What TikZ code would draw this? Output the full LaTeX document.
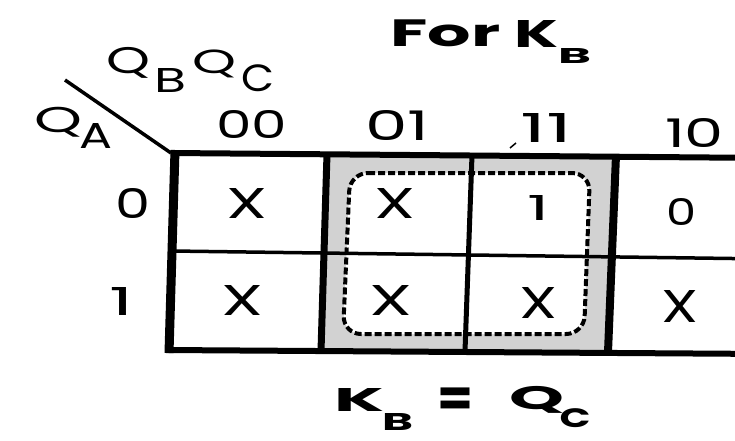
\documentclass[tikz,border=0pt]{standalone}
\usepackage{fontspec}
\setmainfont{Poppins}
% scale a piece of text to a given width and total height (in pt)
\newcommand{\fit}[3]{\resizebox*{#1pt}{#2pt}{#3}}
\begin{document}
\begin{tikzpicture}[x=1pt,y=-1pt,
  txt/.style={inner sep=0pt, font=\fontsize{40}{44}\selectfont},
  bold/.style={inner sep=0pt, font=\fontsize{40}{44}\selectfont\bfseries},
  thinline/.style={line width=3.5pt},
  loopline/.style={line width=4pt, dash pattern=on 7pt off 3pt, rounded corners=18pt}]
\useasboundingbox (0,0) rectangle (735,440);
\clip (0,0) rectangle (735,440);

% corners of the map frame
\coordinate (tl) at (171,153);
\coordinate (tr) at (770,158);
\coordinate (bl) at (166,350);
\coordinate (br) at (770,354);

% edges of the grouped columns 01 and 11
\coordinate (ga) at (327,154);
\coordinate (gb) at (616,155);
\coordinate (gc) at (608,352);
\coordinate (gd) at (321,351);

% loop corners
\coordinate (la) at (350,173);
\coordinate (lb) at (590,173);
\coordinate (lc) at (584,334);
\coordinate (ld) at (343,334);

% shaded band of the group, white inside the loop
\fill[gray!35] (ga) -- (gb) -- (gc) -- (gd) -- cycle;
\fill[white, rounded corners=18pt] (la) -- (lb) -- (lc) -- (ld) -- cycle;

% inner grid lines
\coordinate (ml) at (172,251);
\coordinate (mr) at (770,259);
\draw[thinline] (ml) -- (mr);
\coordinate (ct) at (472,155);
\coordinate (cb) at (465,351);
\draw[line width=5pt] (ct) -- (cb);
\draw[line width=7pt] (ga) -- (gd);
\draw[line width=8pt] (gb) -- (gc);

% outer frame
\draw[line width=6pt] (tl) -- (tr);
\draw[line width=6pt] (bl) -- (br);
\coordinate (lt) at (175,150);
\coordinate (lbt) at (169,353);
\draw[line width=9pt] (lt) -- (lbt);

% dashed loop
\draw[loopline] (la) -- (lb) -- (lc) -- (ld) -- cycle;

% corner diagonal
\coordinate (dg) at (65,80);
\draw[thinline] (dg) -- (tl);

% variable names
\node[txt] (q1) at (128.5,62.5) {\fit{44}{31}{Q}};
\node[txt] (sb) at (170,80) {\fit{32}{24}{B}};
\node[txt] (q2) at (214.5,64) {\fit{44}{28}{Q}};
\node[txt] (sc) at (257.5,78.5) {\fit{33}{27}{C}};
\node[txt] (q3) at (58.5,122) {\fit{48}{30}{Q}};
\node[txt] (sa) at (96,135.5) {\fit{33}{25}{A}};

% column headers
\node[txt] (c00) at (251.5,124) {\fit{71}{28}{00}};
\node[txt] (c01) at (397,125) {\fit{64}{30}{01}};
\node[txt] (c11) at (546,127.5) {\fit{52}{29}{11}};
\node[txt] (c10) at (694.5,132.5) {\fit{59}{29}{10}};
\coordinate (tk1) at (510,148);
\coordinate (tk2) at (516,143);
\draw[line width=1.5pt] (tk1) -- (tk2);

% row headers
\node[txt] (r0) at (133.5,203) {\fit{35}{30}{0}};
\node[txt] (r1) at (121,301) {\fit{24}{28}{1}};

% cell entries
\node[txt] (m00) at (247,203) {\fit{41}{30}{X}};
\node[txt] (m01) at (395,203) {\fit{41}{30}{X}};
\node[txt] (m11) at (538,207.5) {\fit{22}{25}{1}};
\node[txt] (m10) at (681,211.5) {\fit{30}{27}{0}};
\node[txt] (n00) at (242.5,300) {\fit{42}{30}{X}};
\node[txt] (n01) at (391,300) {\fit{43}{30}{X}};
\node[txt] (n11) at (538.5,302.5) {\fit{38}{31}{X}};
\node[txt] (n10) at (680,306) {\fit{37}{32}{X}};

% heading
\node[bold] (hf) at (445.5,33.5) {\fit{110}{27}{For}};
\node[bold] (hk) at (536,33.5) {\fit{44}{27}{K}};
\node[bold] (hb) at (574.5,55.5) {\fit{33}{15}{B}};

% result
\node[bold] (rk) at (359,400) {\fit{50}{23}{K}};
\node[bold] (rb) at (397.5,422) {\fit{31}{17}{B}};
\node[bold, anchor=base] (req) at (455,416) {\resizebox{36pt}{!}{=}};
\node[bold] (rq) at (536.5,400) {\fit{55}{27}{Q}};
\node[bold] (rc) at (575,418) {\fit{31}{19}{C}};
\end{tikzpicture}
\end{document}
